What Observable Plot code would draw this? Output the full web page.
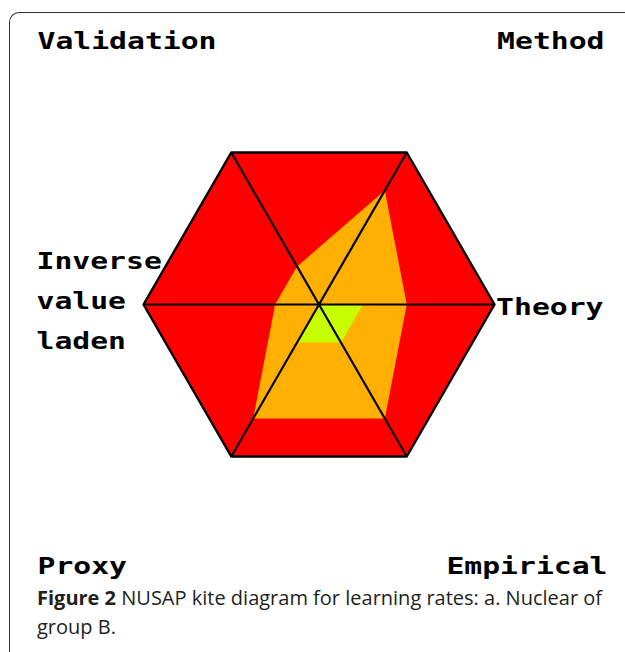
<!DOCTYPE html>
<html>
<head>
<meta charset="utf-8">
<script src="https://cdn.jsdelivr.net/npm/d3@7"></script>
<script src="https://cdn.jsdelivr.net/npm/@observablehq/plot@0.6"></script>
<style>
  html, body { margin: 0; padding: 0; background: #fff; overflow: hidden; width: 625px; height: 652px; }
  #frame { position: absolute; left: 9px; top: 12px; width: 700px; height: 700px;
           border-top: 1.5px solid #333; border-left: 1.5px solid #333; border-top-left-radius: 10px; }
  #chart { position: absolute; left: 0; top: 0; }
  #caption { position: absolute; left: 37px; top: 583px; width: 588px; white-space: nowrap;
             font-family: "Open Sans", sans-serif; font-size: 20px; line-height: 29px; color: #231f20; }
  #caption b { font-weight: 700; }
</style>
</head>
<body>
<div id="frame"></div>
<div id="chart"></div>
<div id="caption"><b>Figure 2</b> NUSAP kite diagram for learning rates: a. Nuclear of<br>group B.</div>
<script>
// Pedigree criteria (spokes, clockwise from upper-left)
const axes = ["Validation", "Method", "Theory", "Empirical", "Proxy", "Inverse value laden"];
// Maximum (amber kite) and minimum (green kite) pedigree scores, scale 0-4
const maxScores = [1, 3, 2, 3, 3, 1];
const minScores = [0.25, 0, 1, 1, 1, 0];
const outerScore = 4;

// Corner label texts
const labelValidation = "Validation";
const labelMethod = "Method";
const labelTheory = "Theory";
const labelEmpirical = "Empirical";
const labelProxy = "Proxy";
const labelInverse = ["Inverse", "value", "laden"];

// geometry: spoke angle from index (Validation at 120°, then clockwise by 60°)
const angle = (i) => (120 - 60 * i) * Math.PI / 180;
const px = (s, i) => s * Math.cos(angle(i));
const py = (s, i) => s * Math.sin(angle(i));

const rows = axes.map((name, i) => ({name, i, max: maxScores[i], min: minScores[i], outer: outerScore}));

const W = 625, H = 585;
const font = {fontFamily: "DejaVu Sans Mono", fontWeight: "bold", fontSize: 23, fill: "black", lineAnchor: "bottom"};

const chart = Plot.plot({
  width: W,
  height: H,
  marginTop: 48,
  marginBottom: 12,
  marginLeft: 37,
  marginRight: 21,
  x: {type: "linear", domain: [-outerScore, outerScore], range: [143, 494], axis: null},
  y: {type: "linear", domain: [-outerScore, outerScore], range: [479.5, 128.5], axis: null},
  style: {background: "transparent", overflow: "visible"},
  marks: [
    // red background hexagon
    Plot.line(rows, {x: d => px(d.outer, d.i), y: d => py(d.outer, d.i), curve: "linear-closed", fill: "#ff0000", stroke: "none"}),
    // amber kite (max scores)
    Plot.line(rows, {x: d => px(d.max, d.i), y: d => py(d.max, d.i), curve: "linear-closed", fill: "#ffb000", stroke: "none"}),
    // green kite (min scores)
    Plot.line(rows, {x: d => px(d.min, d.i), y: d => py(d.min, d.i), curve: "linear-closed", fill: "#c8ff00", stroke: "none"}),
    // spokes
    Plot.link(rows, {x1: () => 0, y1: () => 0, x2: d => px(d.outer, d.i), y2: d => py(d.outer, d.i), stroke: "black", strokeWidth: 2.2}),
    // hexagon outline
    Plot.line(rows, {x: d => px(d.outer, d.i), y: d => py(d.outer, d.i), curve: "linear-closed", stroke: "black", strokeWidth: 2.4}),
    // corner labels
    Plot.text([labelValidation], {...font, frameAnchor: "top-left", textAnchor: "start"}),
    Plot.text([labelMethod], {...font, frameAnchor: "top-right", textAnchor: "end"}),
    Plot.text([labelTheory], {...font, frameAnchor: "right", textAnchor: "end", dy: 3.5, dx: -1}),
    Plot.text([labelInverse[0]], {...font, frameAnchor: "left", textAnchor: "start", dy: -42.5, dx: -1}),
    Plot.text([labelInverse[1]], {...font, frameAnchor: "left", textAnchor: "start", dy: -2.5, dx: -1}),
    Plot.text([labelInverse[2]], {...font, frameAnchor: "left", textAnchor: "start", dy: 37.5, dx: -1}),
    Plot.text([labelProxy], {...font, frameAnchor: "bottom-left", textAnchor: "start"}),
    Plot.text([labelEmpirical], {...font, frameAnchor: "bottom-right", textAnchor: "end", dx: 3})
  ]
});

// stretch the monospace glyphs to the wide pixel-font look of the original
chart.querySelectorAll("text").forEach(t => {
  const n = t.textContent.length;
  t.setAttribute("textLength", (n * 17.9).toFixed(1));
  t.setAttribute("lengthAdjust", "spacingAndGlyphs");
});

document.getElementById("chart").appendChild(chart);
</script>
</body>
</html>
